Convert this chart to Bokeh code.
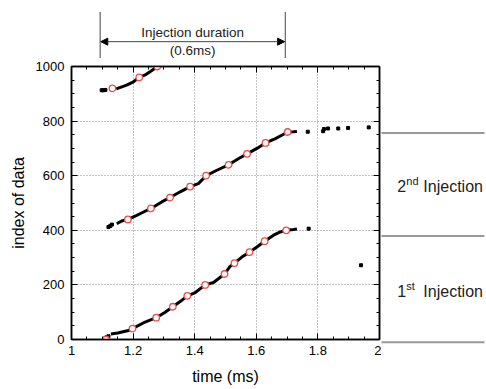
from bokeh.plotting import figure
from bokeh.layouts import column, row
from bokeh.models import Range1d, LinearAxis, Label, Arrow, NormalHead, TeeHead, FixedTicker
from bokeh.embed import file_html
from bokeh.resources import INLINE

# ---- data ----
x_ticks = [1, 1.2, 1.4, 1.6, 1.8, 2]
x_tick_labels = ["1", "1.2", "1.4", "1.6", "1.8", "2"]
y_ticks = [0, 200, 400, 600, 800, 1000]

# 1st injection: dense trace, marked points (every 40 samples), stray samples
inj1_t = [1.128, 1.150, 1.185, 1.198, 1.239, 1.275, 1.304, 1.329, 1.353, 1.376, 1.402,
          1.434, 1.461, 1.497, 1.515, 1.529, 1.553, 1.578, 1.602, 1.627, 1.656, 1.678,
          1.697, 1.721, 1.732]
inj1_v = [20, 24, 33, 40, 64, 80, 100, 120, 139, 160, 172,
          200, 209, 240, 268, 280, 302, 320, 339, 360, 382, 394,
          400, 403, 405]
inj1_mark_t = [1.112, 1.198, 1.275, 1.329, 1.376, 1.434, 1.497, 1.529, 1.578, 1.627, 1.697]
inj1_mark_v = [0, 40, 80, 120, 160, 200, 240, 280, 320, 360, 400]
inj1_stray_t = [1.114, 1.120, 1.770, 1.940]
inj1_stray_v = [8, 12, 406, 272]

# 2nd injection
inj2_t = [1.147, 1.163, 1.183, 1.212, 1.234, 1.258, 1.293, 1.320, 1.353, 1.385, 1.412,
          1.437, 1.472, 1.510, 1.543, 1.570, 1.602, 1.630, 1.662, 1.684, 1.702, 1.721,
          1.732]
inj2_v = [424, 434, 440, 455, 467, 480, 504, 520, 541, 560, 571,
          600, 620, 640, 663, 680, 700, 720, 736, 749, 760, 761,
          762]
inj2_mark_t = [1.183, 1.258, 1.320, 1.385, 1.437, 1.510, 1.570, 1.630, 1.702]
inj2_mark_v = [440, 480, 520, 560, 600, 640, 680, 720, 760]
inj2_stray_t = [1.120, 1.126, 1.131, 1.767, 1.817, 1.820, 1.833, 1.866, 1.898, 1.965]
inj2_stray_v = [412, 416, 421, 761, 763, 771, 773, 773, 775, 777]

# 3rd trace (top)
inj3_t = [1.145, 1.152, 1.179, 1.201, 1.220, 1.239, 1.255, 1.279]
inj3_v = [918, 921, 932, 944, 960, 969, 981, 1000]
inj3_mark_t = [1.133, 1.220, 1.279]
inj3_mark_v = [920, 960, 1000]
inj3_stray_t = [1.098, 1.103, 1.110]
inj3_stray_v = [913, 913, 914]

# annotation values (in the chart's units)
dur_start, dur_end = 1.093, 1.694
dur_top, dur_arrow_v = 1200, 1091
dur_text_v, dur_sub_v = 1123, 1058
sep_values = [756, 379, -10]
inj_text_t = 2.058
inj_text_v = {"2nd": 561, "1st": 176}

FONT = "Liberation Sans"
RED = "#ee4a4a"
TXT = "#222222"
LINE = "#444444"

# layout geometry (pixels)
W, H = 486, 389
TOP_H = 58          # strip above the chart
BORDER_L, BORDER_T, BORDER_B = 71, 8, 50
FRAME_W, FRAME_H = 308, 273
MAIN_W = BORDER_L + FRAME_W + 2
upp = 1000 / FRAME_H                 # data units per pixel (vertical)
tpp = 1.0 / FRAME_W                  # time units per pixel (horizontal)
v_strip_bottom = 1000 + BORDER_T * upp

def set_no_align(fig):
    if "frame_align" in fig.properties():
        fig.frame_align = False

# ---------------- main chart ----------------
p = figure(width=MAIN_W, height=H - TOP_H, output_backend="svg", toolbar_location=None,
           x_range=Range1d(1, 2), y_range=Range1d(0, 1000),
           min_border_left=BORDER_L, min_border_right=2, min_border_top=BORDER_T,
           min_border_bottom=BORDER_B, background_fill_color="white",
           border_fill_color="white")
p.outline_line_color = "black"
p.outline_line_width = 1.5

xt = FixedTicker(ticks=x_ticks, minor_ticks=[1 + 0.05 * i for i in range(21)])
yt = FixedTicker(ticks=y_ticks, minor_ticks=[50 * i for i in range(21)])

def style_axis(ax, ticker, show_labels, labels=None):
    ax.ticker = ticker
    ax.axis_line_color = "black"
    ax.axis_line_width = 1.5
    ax.major_tick_in = 6
    ax.major_tick_out = 0
    ax.minor_tick_in = 3
    ax.minor_tick_out = 0
    ax.major_tick_line_color = "black"
    ax.minor_tick_line_color = "black"
    ax.major_label_text_font = FONT
    ax.major_label_text_font_size = "13px"
    ax.major_label_text_color = "black"
    if not show_labels:
        ax.major_label_overrides = {t: "" for t in ticker.ticks}
        ax.major_label_text_font_size = "0px"
        ax.major_label_standoff = 0
    elif labels is not None:
        ax.major_label_overrides = dict(zip(ticker.ticks, labels))

style_axis(p.xaxis[0], xt, True, x_tick_labels)
style_axis(p.yaxis[0], yt, True)
p.xaxis[0].major_label_standoff = 6
p.yaxis[0].major_label_standoff = 7
p.xaxis[0].axis_label = "time (ms)"
p.yaxis[0].axis_label = "index of data"
for ax in (p.xaxis[0], p.yaxis[0]):
    ax.axis_label_text_font = FONT
    ax.axis_label_text_font_size = "16px"
    ax.axis_label_text_font_style = "normal"
    ax.axis_label_text_color = "black"
p.xaxis[0].axis_label_standoff = 10
p.yaxis[0].axis_label_standoff = 6

top_ax = LinearAxis()
right_ax = LinearAxis()
style_axis(top_ax, xt, False)
style_axis(right_ax, yt, False)
p.add_layout(top_ax, "above")
p.add_layout(right_ax, "right")

p.xgrid.grid_line_color = "#888888"
p.ygrid.grid_line_color = "#888888"
p.xgrid.grid_line_dash = "1 2"
p.ygrid.grid_line_dash = "1 2"

for tt, vv in ((inj1_t, inj1_v), (inj2_t, inj2_v), (inj3_t, inj3_v)):
    p.line(tt, vv, line_color="black", line_width=3)
for tt, vv in ((inj1_stray_t, inj1_stray_v), (inj2_stray_t, inj2_stray_v),
               (inj3_stray_t, inj3_stray_v)):
    p.scatter(tt, vv, marker="square", size=3, color="black")
for tt, vv in ((inj1_mark_t, inj1_mark_v), (inj2_mark_t, inj2_mark_v),
               (inj3_mark_t, inj3_mark_v)):
    p.scatter(tt, vv, marker="circle", size=6.5, line_color=RED, fill_color="white",
              line_width=1.3)

# short pieces of the duration markers inside the chart's top border
v_gap_mid = (1000 + v_strip_bottom) / 2
for xv in (dur_start, dur_end):
    p.add_layout(Arrow(start=None,
                       end=TeeHead(size=BORDER_T + 1, line_color=LINE, line_width=1),
                       x_start=xv - 0.02, y_start=v_gap_mid, x_end=xv, y_end=v_gap_mid,
                       line_alpha=0))

# ---------------- strip above: injection duration ----------------
top = figure(width=W, height=TOP_H, output_backend="svg", toolbar_location=None,
             x_range=p.x_range,
             y_range=Range1d(v_strip_bottom, v_strip_bottom + TOP_H * upp),
             min_border_left=BORDER_L, min_border_right=W - BORDER_L - FRAME_W,
             min_border_top=0, min_border_bottom=0, x_axis_type=None, y_axis_type=None,
             background_fill_color="white", border_fill_color="white")
set_no_align(top)
top.outline_line_color = None
top.xgrid.visible = False
top.ygrid.visible = False
top.segment(x0=[dur_start, dur_end], y0=[v_strip_bottom - 5, v_strip_bottom - 5],
            x1=[dur_start, dur_end], y1=[dur_top, dur_top], line_color=LINE,
            line_width=1)
top.add_layout(Arrow(start=NormalHead(size=7, fill_color="black", line_color="black"),
                     end=NormalHead(size=7, fill_color="black", line_color="black"),
                     x_start=dur_start + 0.002, y_start=dur_arrow_v,
                     x_end=dur_end - 0.002, y_end=dur_arrow_v,
                     line_color=LINE, line_width=1))
mid = (dur_start + dur_end) / 2
top.add_layout(Label(x=mid, y=dur_text_v, text="Injection duration", text_font=FONT,
                     text_font_size="13.5px", text_align="center",
                     text_baseline="middle", text_color=TXT))
top.add_layout(Label(x=mid, y=dur_sub_v, text="(0.6ms)", text_font=FONT,
                     text_font_size="13.5px", text_align="center",
                     text_baseline="middle", text_color=TXT))

# ---------------- strip right: separators and injection labels ----------------
RIGHT_W = W - MAIN_W
t_left = 1 + (MAIN_W - BORDER_L) * tpp
right = figure(width=RIGHT_W, height=H - TOP_H, output_backend="svg",
               toolbar_location=None,
               x_range=Range1d(t_left, t_left + RIGHT_W * tpp),
               y_range=Range1d(-BORDER_B * upp, 1000 + BORDER_T * upp),
               min_border_left=0, min_border_right=0, min_border_top=0,
               min_border_bottom=0, x_axis_type=None, y_axis_type=None,
               background_fill_color="white", border_fill_color="white")
set_no_align(right)
right.outline_line_color = None
right.xgrid.visible = False
right.ygrid.visible = False
right.segment(x0=[t_left - 0.01] * len(sep_values), y0=sep_values,
              x1=[t_left + (RIGHT_W - 2) * tpp] * len(sep_values),
              y1=sep_values, line_color="#999999", line_width=2)

def inj_label(num, sup, yv):
    right.add_layout(Label(x=inj_text_t, y=yv, text=num, text_font=FONT,
                           text_font_size="16px", text_baseline="middle",
                           text_color=TXT))
    right.add_layout(Label(x=inj_text_t, y=yv, x_offset=9, y_offset=5, text=sup,
                           text_font=FONT, text_font_size="11px",
                           text_baseline="middle", text_color=TXT))
    right.add_layout(Label(x=inj_text_t, y=yv, x_offset=26, text="Injection",
                           text_font=FONT, text_font_size="16px",
                           text_baseline="middle", text_color=TXT))

inj_label("2", "nd", inj_text_v["2nd"])
inj_label("1", "st", inj_text_v["1st"])

layout = column(top, row(p, right))
open("out.html", "w").write(file_html(layout, INLINE))
